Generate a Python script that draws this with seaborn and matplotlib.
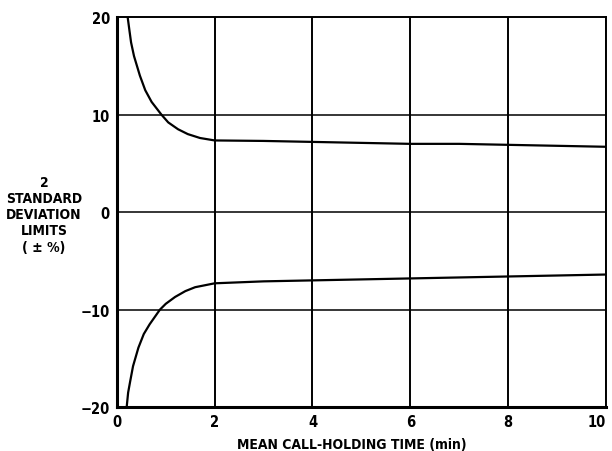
import matplotlib
matplotlib.use("Agg")
import matplotlib.pyplot as plt
import seaborn as sns
import pandas as pd

# Mean call-holding time (min) and the 2-sigma limits (± %)
upper_time = [0.22, 0.26, 0.29, 0.35, 0.41, 0.47, 0.58, 0.71, 0.91, 1.05, 1.25,
              1.45, 1.7, 2.0, 3.0, 4.0, 5.0, 6.0, 7.0, 8.0, 9.0, 10.0]
upper_limit = [20.0, 18.5, 17.4, 16.0, 15.0, 14.0, 12.5, 11.3, 10.0, 9.2, 8.5,
               8.0, 7.6, 7.35, 7.3, 7.2, 7.1, 7.0, 7.0, 6.9, 6.8, 6.7]
lower_time = [0.20, 0.23, 0.27, 0.33, 0.44, 0.55, 0.67, 0.88, 1.0, 1.19, 1.4,
              1.6, 2.0, 3.0, 4.0, 5.0, 6.0, 7.0, 8.0, 9.0, 10.0]
lower_limit = [-20.0, -18.5, -17.4, -15.8, -13.9, -12.5, -11.5, -10.0, -9.4, -8.7, -8.1,
               -7.7, -7.3, -7.1, -7.0, -6.9, -6.8, -6.7, -6.6, -6.5, -6.4]

x_ticks = [0, 2, 4, 6, 8, 10]
y_ticks = [-20, -10, 0, 10, 20]

sns.set_style("white")
plt.rcParams["font.family"] = ["DejaVu Sans"]
plt.rcParams["font.stretch"] = "condensed"
plt.rcParams["font.weight"] = "bold"
plt.rcParams["text.color"] = "black"
plt.rcParams["xtick.color"] = "black"
plt.rcParams["ytick.color"] = "black"
plt.rcParams["axes.labelcolor"] = "black"

fig = plt.figure(figsize=(6.12, 4.52), dpi=100)
ax = fig.add_axes([0.191, 0.097, 0.799, 0.863])

df_up = pd.DataFrame({"t": upper_time, "v": upper_limit})
df_lo = pd.DataFrame({"t": lower_time, "v": lower_limit})
sns.lineplot(data=df_up, x="t", y="v", ax=ax, color="black", linewidth=1.6, sort=False)
sns.lineplot(data=df_lo, x="t", y="v", ax=ax, color="black", linewidth=1.6, sort=False)

# grid of heavy lines
for xv in x_ticks[1:]:
    ax.axvline(xv, color="black", linewidth=1.4, zorder=1)
for yv in y_ticks[1:-1]:
    ax.axhline(yv, color="black", linewidth=1.1, zorder=1)

ax.set_xlim(0, 10)
ax.set_ylim(-20, 20)
ax.set_xticks(x_ticks)
ax.set_yticks(y_ticks)
ax.set_xticklabels([str(v) for v in x_ticks])
ax.set_yticklabels(["\u221220", "\u221210", "0", "10", "20"])
ax.tick_params(axis="both", length=0, labelsize=10.5, pad=5, colors="black")
for lab in ax.get_xticklabels() + ax.get_yticklabels():
    lab.set_fontweight("bold")
    lab.set_fontstretch("condensed")
# keep the last x label inside the figure
last = ax.get_xticklabels()[-1]
last.set_horizontalalignment("right")

for side in ["left", "bottom"]:
    ax.spines[side].set_linewidth(2.2)
    ax.spines[side].set_color("black")
for side in ["top", "right"]:
    ax.spines[side].set_linewidth(1.4)
    ax.spines[side].set_color("black")

ax.set_xlabel("MEAN CALL-HOLDING TIME (min)", fontsize=10, fontweight="bold",
              fontstretch="condensed", color="black")
ax.xaxis.set_label_coords(0.48, -0.077)
ax.set_ylabel("")
fig.text(0.072, 0.524, "2\nSTANDARD\nDEVIATION\nLIMITS\n( \u00b1 %)", ha="center", va="center",
         fontsize=10, fontweight="bold", fontstretch="condensed", linespacing=1.2,
         color="black")

fig.savefig("out.png", dpi=100)
